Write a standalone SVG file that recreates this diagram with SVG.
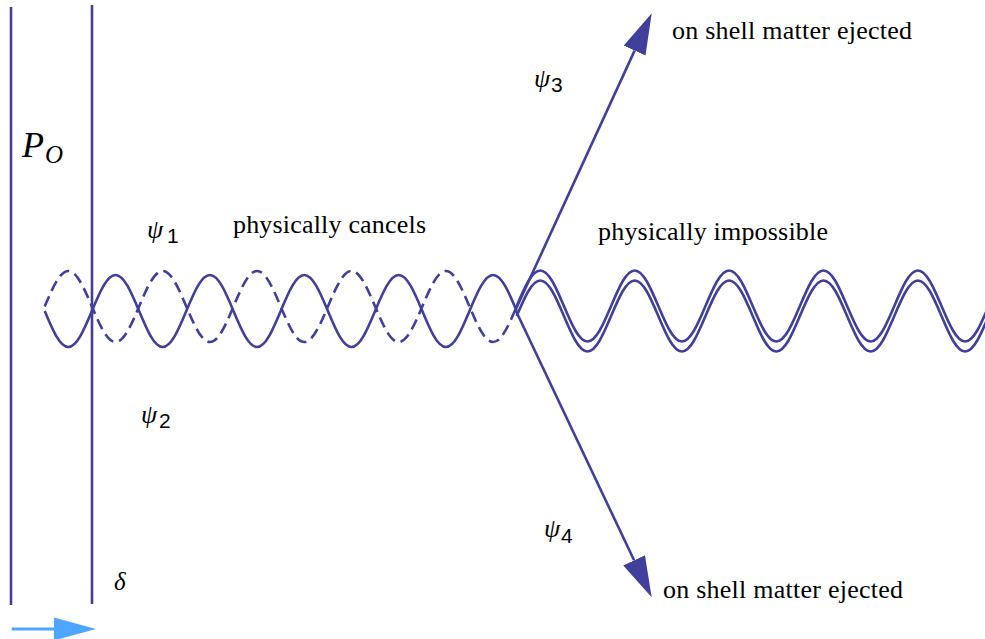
<svg xmlns="http://www.w3.org/2000/svg" width="985" height="639" viewBox="0 0 985 639">
<style>
.ln{fill:none;stroke:#40409c;stroke-width:2.6}
.dash{stroke-dasharray:11 6}
.lbl{font-family:"Liberation Serif","Times New Roman",serif;font-size:26px;fill:#000}
.psi{font-family:"Liberation Serif","Times New Roman",serif;font-style:italic;font-size:26px;fill:#000}
.sub{font-family:"Liberation Sans",Arial,sans-serif;font-size:21px;fill:#000}
.it{font-family:"Liberation Serif","Times New Roman",serif;font-style:italic;fill:#000}
</style>
<defs>
<marker id="ah" markerUnits="userSpaceOnUse" markerWidth="41" markerHeight="24" viewBox="0 -12 41 24" refX="0" refY="0" orient="auto"><path d="M0,-12 L41,0 L0,12 Z" fill="#40409c"/></marker>
<marker id="ahb" markerUnits="userSpaceOnUse" markerWidth="42" markerHeight="24" viewBox="0 -12 42 24" refX="0" refY="0" orient="auto"><path d="M0,-11.5 L42,0 L0,11.5 Z" fill="#4da6ff"/></marker>
</defs>
<rect width="985" height="639" fill="#fff"/>
<g id="wall-outer"><line class="ln" x1="11" y1="7" x2="11" y2="605"/></g>
<g id="wall-inner"><line class="ln" x1="92" y1="5" x2="92" y2="604"/></g>
<g id="wave-psi1"><path class="ln" d="M44.7,311 c7.89,18.9 15.15,36 23.6,36 s15.71,-17.1 23.6,-36 s15.15,-36 23.6,-36 s15.71,17.1 23.6,36 s15.15,36 23.6,36 s15.71,-17.1 23.6,-36 s15.15,-36 23.6,-36 s15.71,17.1 23.6,36 s15.15,36 23.6,36 s15.71,-17.1 23.6,-36 s15.15,-36 23.6,-36 s15.71,17.1 23.6,36 s15.15,36 23.6,36 s15.71,-17.1 23.6,-36 s15.15,-36 23.6,-36 s15.71,17.1 23.6,36 s15.15,36 23.6,36 s15.71,-17.1 23.6,-36 s15.15,-36 23.6,-36 s15.71,17.1 23.6,36"/></g>
<g id="wave-psi2"><path class="ln dash" d="M44.7,306.5 c7.89,-18.64 15.15,-35.5 23.6,-35.5 s15.71,16.86 23.6,35.5 s15.15,35.5 23.6,35.5 s15.71,-16.86 23.6,-35.5 s15.15,-35.5 23.6,-35.5 s15.71,16.86 23.6,35.5 s15.15,35.5 23.6,35.5 s15.71,-16.86 23.6,-35.5 s15.15,-35.5 23.6,-35.5 s15.71,16.86 23.6,35.5 s15.15,35.5 23.6,35.5 s15.71,-16.86 23.6,-35.5 s15.15,-35.5 23.6,-35.5 s15.71,16.86 23.6,35.5 s15.15,35.5 23.6,35.5 s15.71,-16.86 23.6,-35.5 s15.15,-35.5 23.6,-35.5 s15.71,16.86 23.6,35.5 s15.15,35.5 23.6,35.5 s15.71,-16.86 23.6,-35.5"/></g>
<g id="wave-double">
<path class="ln" d="M516.7,306 c7.89,-18.64 15.15,-35.5 23.6,-35.5 s15.71,16.86 23.6,35.5 s15.15,35.5 23.6,35.5 s15.71,-16.86 23.6,-35.5 s15.15,-35.5 23.6,-35.5 s15.71,16.86 23.6,35.5 s15.15,35.5 23.6,35.5 s15.71,-16.86 23.6,-35.5 s15.15,-35.5 23.6,-35.5 s15.71,16.86 23.6,35.5 s15.15,35.5 23.6,35.5 s15.71,-16.86 23.6,-35.5 s15.15,-35.5 23.6,-35.5 s15.71,16.86 23.6,35.5 s15.15,35.5 23.6,35.5 s15.71,-16.86 23.6,-35.5 s15.15,-35.5 23.6,-35.5 s15.71,16.86 23.6,35.5 s15.15,35.5 23.6,35.5 s15.71,-16.86 23.6,-35.5"/>
<path class="ln" d="M516.7,316 c7.89,-18.64 15.15,-35.5 23.6,-35.5 s15.71,16.86 23.6,35.5 s15.15,35.5 23.6,35.5 s15.71,-16.86 23.6,-35.5 s15.15,-35.5 23.6,-35.5 s15.71,16.86 23.6,35.5 s15.15,35.5 23.6,35.5 s15.71,-16.86 23.6,-35.5 s15.15,-35.5 23.6,-35.5 s15.71,16.86 23.6,35.5 s15.15,35.5 23.6,35.5 s15.71,-16.86 23.6,-35.5 s15.15,-35.5 23.6,-35.5 s15.71,16.86 23.6,35.5 s15.15,35.5 23.6,35.5 s15.71,-16.86 23.6,-35.5 s15.15,-35.5 23.6,-35.5 s15.71,16.86 23.6,35.5 s15.15,35.5 23.6,35.5 s15.71,-16.86 23.6,-35.5"/>
</g>
<g id="connectors">
<line class="ln" x1="515" y1="311" x2="634.6" y2="50.6" marker-end="url(#ah)"/>
<line class="ln" x1="516" y1="311" x2="634.1" y2="560.3" marker-end="url(#ah)"/>
<line x1="11.7" y1="629" x2="54" y2="629" stroke="#4da6ff" stroke-width="3" marker-end="url(#ahb)"/>
</g>
<g id="label-Po"><text class="it" x="22" y="157" font-size="36">P</text><text class="it" x="45" y="163" font-size="25">O</text></g>
<g id="label-psi1"><text class="psi" x="147" y="238">ψ</text><text class="sub" x="167" y="243">1</text></g>
<g id="label-psi2"><text class="psi" x="141" y="423">ψ</text><text class="sub" x="159" y="428">2</text></g>
<g id="label-psi3"><text class="psi" x="534" y="87">ψ</text><text class="sub" x="551" y="92">3</text></g>
<g id="label-psi4"><text class="psi" x="544" y="537">ψ</text><text class="sub" x="561" y="543">4</text></g>
<g id="label-delta"><text class="it" x="114" y="590" font-size="25">δ</text></g>
<g id="label-cancels"><text class="lbl" x="233" y="233" textLength="193" lengthAdjust="spacing">physically cancels</text></g>
<g id="label-impossible"><text class="lbl" x="598" y="240" textLength="230" lengthAdjust="spacing">physically impossible</text></g>
<g id="label-eject-top"><text class="lbl" x="672" y="39" textLength="240" lengthAdjust="spacing">on shell matter ejected</text></g>
<g id="label-eject-bottom"><text class="lbl" x="663" y="598" textLength="240" lengthAdjust="spacing">on shell matter ejected</text></g>
</svg>
